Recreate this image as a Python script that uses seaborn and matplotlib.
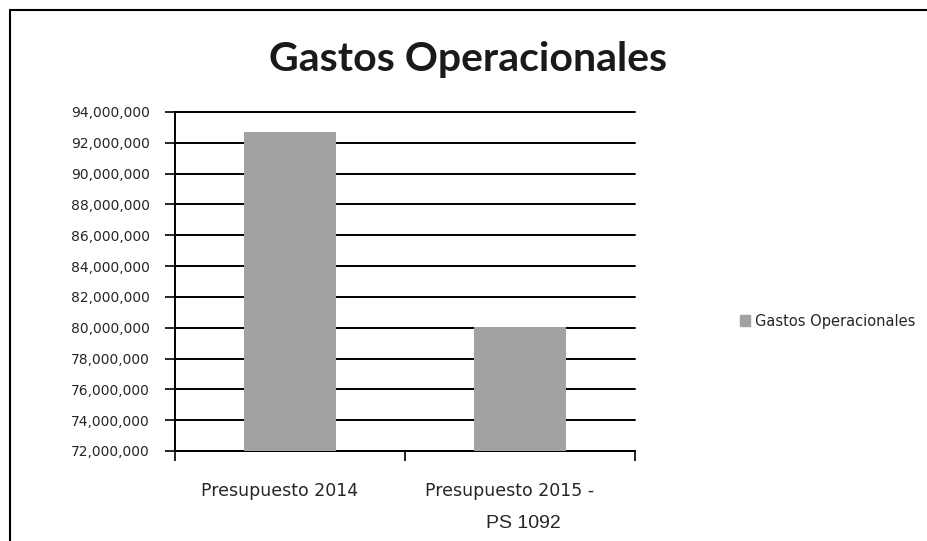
import matplotlib
matplotlib.use('Agg')
import pandas as pd
import seaborn as sns
import matplotlib.pyplot as plt
import matplotlib.transforms as mtransforms
from matplotlib.ticker import FuncFormatter, FixedLocator
from matplotlib.patches import Rectangle
from matplotlib.lines import Line2D

#data
categories = ['Presupuesto 2014', 'Presupuesto 2015 -']
values = [92700000, 80030000]
series_name = 'Gastos Operacionales'
y_ticks = list(range(72000000, 94000001, 2000000))

df = pd.DataFrame({'categoria': categories, 'gasto': values})

sns.set_style('white')
plt.rcParams['font.family'] = ['Lato', 'DejaVu Sans']

fig = plt.figure(figsize=(9.27, 5.41), dpi=100)
ax = fig.add_axes([175 / 927, 1 - 451 / 541, 460 / 927, 339 / 541])

sns.barplot(data=df, x='categoria', y='gasto', color='#a2a2a2', width=0.4,
            saturation=1, ax=ax, label=series_name, zorder=3, linewidth=0)

ax.set_ylim(72000000, 94000000)
ax.set_xlim(-0.5, 1.5)
ax.set_yticks(y_ticks)
ax.yaxis.set_major_formatter(FuncFormatter(lambda v, p: f'{v:,.0f}'))
ax.grid(axis='y', color='black', linewidth=1.4, zorder=0)
for gl in ax.get_ygridlines():
    gl.set_clip_on(False)
ax.set_axisbelow(True)
ax.set_xlabel('')
ax.set_ylabel('')

for s in ['top', 'right']:
    ax.spines[s].set_visible(False)
for s in ['left', 'bottom']:
    ax.spines[s].set_color('black')
    ax.spines[s].set_linewidth(1.4)

ax.tick_params(axis='y', direction='out', length=7, width=1.2, color='black',
               pad=11, left=True)
ax.tick_params(axis='x', which='major', length=0, pad=22)
ax.xaxis.set_minor_locator(FixedLocator([-0.5, 0.5, 1.5]))
ax.tick_params(axis='x', which='minor', direction='out', length=7, width=1.2,
               color='black', bottom=True)
for lbl in ax.get_yticklabels():
    lbl.set_family(['DejaVu Sans'])
    lbl.set_fontsize(10)
shift = mtransforms.ScaledTranslation(-10 / 100, 0, fig.dpi_scale_trans)
for lbl in ax.get_xticklabels():
    lbl.set_family(['DejaVu Sans'])
    lbl.set_fontsize(12.5)
    lbl.set_transform(lbl.get_transform() + shift)

# second line of the second category label
ax.text(1.016, -0.214, 'PS 1092', transform=ax.get_xaxis_transform(),
        ha='center', va='center', fontsize=14, family=['Liberation Sans'])

fig.text(468 / 927, 1 - 60 / 541, series_name, ha='center', va='center',
         fontsize=29.5, fontweight='bold', color='#1a1a1a')

ax.legend(handles=[Rectangle((0, 0), 1, 1, color='#a2a2a2')], labels=[series_name],
          loc='center left', bbox_to_anchor=(1.2, 0.383), frameon=False,
          handlelength=0.7, handleheight=0.7, handletextpad=0.3,
          prop={'family': 'DejaVu Sans', 'size': 10.5})

# outer frame of the pasted chart
fig.add_artist(Line2D([10 / 927, 10 / 927], [0, 1 - 10 / 541], transform=fig.transFigure,
                      color='black', linewidth=1.5))
fig.add_artist(Line2D([10 / 927, 1], [1 - 10 / 541, 1 - 10 / 541], transform=fig.transFigure,
                      color='black', linewidth=1.5))

fig.savefig('out.png', dpi=100)
